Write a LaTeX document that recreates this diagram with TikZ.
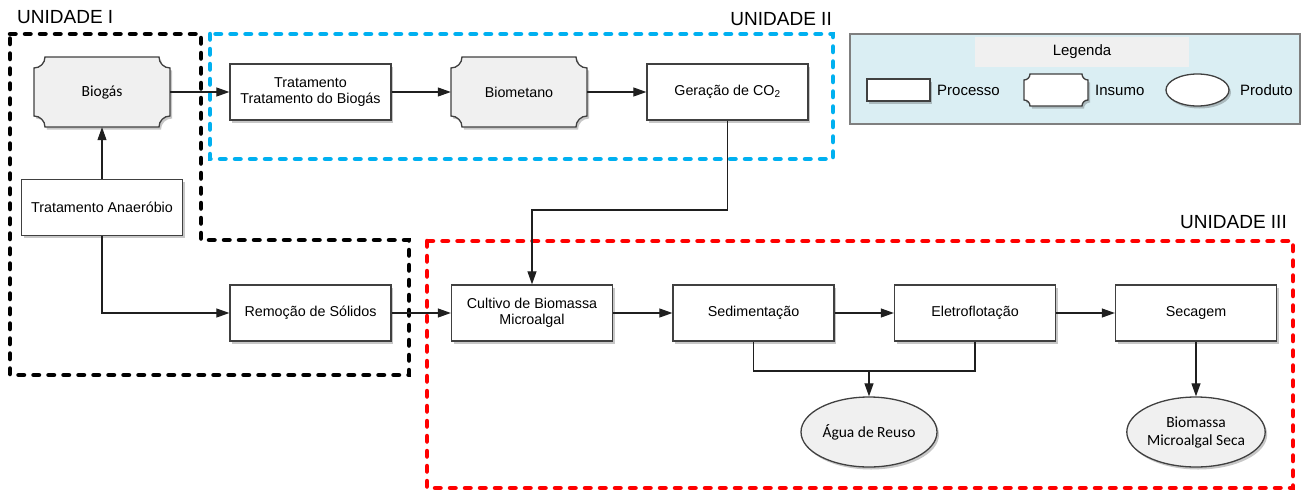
\documentclass[tikz,border=0pt]{standalone}
\usepackage{fontspec}
\setmainfont{Liberation Sans}
\newfontfamily\calibrilike{Carlito}
\usetikzlibrary{arrows.meta,calc,shapes.geometric,shadows}

\definecolor{edgegray}{HTML}{404040}
\definecolor{boxgray}{HTML}{F0F0F0}
\definecolor{unitblue}{HTML}{00B0F0}
\definecolor{unitred}{HTML}{FF0000}
\definecolor{legendbg}{HTML}{DAEEF3}
\definecolor{legendframe}{HTML}{7F7F7F}

% Input ("insumo") node: outline with concave quarter-circle corners, then the named node on top
% #1 name, #2 x, #3 y, #4 half width, #5 half height, #6 corner radius, #7 fill, #8 text
\newcommand\insumonode[8]{%
  \path[insumoline,fill=#7]
    ({#2-#4+#6},{#3-#5}) -- ({#2+#4-#6},{#3-#5})
    arc[start angle=180,end angle=270,radius=#6pt] -- ({#2+#4},{#3+#5-#6})
    arc[start angle=90,end angle=180,radius=#6pt] -- ({#2-#4+#6},{#3+#5})
    arc[start angle=0,end angle=90,radius=#6pt] -- ({#2-#4},{#3-#5+#6})
    arc[start angle=270,end angle=360,radius=#6pt] -- cycle;
  \node[insumo,minimum width={2*#4pt},minimum height={2*#5pt}] (#1) at (#2,#3) {#8};}

\begin{document}
\begin{tikzpicture}[x=1pt,y=-1pt,
  softshadow/.style={drop shadow={shadow xshift=2pt,shadow yshift=-2.5pt,opacity=0.22,fill=black}},
  process/.style={draw=edgegray,line width=1.3pt,fill=white,minimum width=161pt,minimum height=56pt,
    inner sep=2pt,align=center,font=\fontsize{14.3}{16.5}\selectfont,softshadow},
  insumo/.style={inner sep=0pt,align=center,font=\calibrilike\fontsize{15.5}{18}\selectfont},
  insumoline/.style={draw=edgegray,line width=1.3pt,softshadow},
  product/.style={ellipse,draw=edgegray,line width=1.3pt,fill=boxgray,minimum width=136pt,minimum height=70pt,
    inner sep=0pt,align=center,font=\calibrilike\fontsize{15.5}{18}\selectfont,softshadow},
  flow/.style={draw=black!88,line width=1.1pt,-{Triangle[length=13pt,width=9pt]}},
  link/.style={draw=black!88,line width=1.1pt},
  unitframe/.style={line width=4.5pt,dash pattern=on 5.5pt off 9.5pt,line cap=round},
  unitlabel/.style={font=\fontsize{19}{22}\selectfont,inner sep=0pt},
  legendtext/.style={font=\fontsize{15}{18}\selectfont,inner sep=0pt,anchor=west},
]
\useasboundingbox (0,0) rectangle (1302,493);

% legend panel
\draw[draw=legendframe,line width=1.5pt,fill=legendbg] (850,34) rectangle (1300,124);
\fill[boxgray] (975,37) rectangle (1189,67);
\node[font=\fontsize{15}{18}\selectfont,inner sep=0pt] (legtitle) at (1082,52) {Legenda};
\node[process,minimum width=63pt,minimum height=22pt] (legproc) at (898.5,90) {};
\node[legendtext] (legproctext) at (937,90) {Processo};
\insumonode{legins}{1056}{90}{32}{16}{6}{white}{}
\node[legendtext] (leginstext) at (1095,90) {Insumo};
\node[product,fill=white,minimum width=63pt,minimum height=32pt] (legprod) at (1197.5,90) {};
\node[legendtext] (legprodtext) at (1240,90) {Produto};

% unit frames
\draw[unitframe,black] (10,34) -- (201,34) -- (201,240) -- (409,240) -- (409,375) -- (10,375) -- cycle;
\draw[unitframe,unitblue] (210,34) rectangle (833,159);
\draw[unitframe,unitred] (427,241) rectangle (1293,488);

\node[unitlabel,anchor=north west] (unitone) at (17,10) {UNIDADE I};
\node[unitlabel,anchor=north east] (unittwo) at (832,12) {UNIDADE II};
\node[unitlabel,anchor=north east] (unitthree) at (1287,215) {UNIDADE III};

% unit I
\insumonode{biogas}{102}{92}{68}{35}{11}{boxgray}{Biogás}
\node[process] (anaer) at (102,207.5) {Tratamento Anaeróbio};
\node[process] (remocao) at (310.5,313) {Remoção de Sólidos};

% unit II
\node[process] (tratbio) at (310.5,92) {Tratamento\\Tratamento do Biogás};
\insumonode{biometano}{519}{92}{68}{35}{11}{boxgray}{\rmfamily\fontsize{14.3}{16.5}\selectfont Biometano}
\node[process] (co2) at (727.5,92) {Geração de CO\textsubscript{2}};

% unit III
\node[process] (cultivo) at (532,313) {Cultivo de Biomassa\\Microalgal};
\node[process] (sedim) at (753.5,313) {Sedimentação};
\node[process] (eletro) at (975,313) {Eletroflotação};
\node[process] (secagem) at (1196,313) {Secagem};
\node[product] (agua) at (869,432) {Água de Reuso};
\node[product] (biomassa) at (1196,432) {Biomassa\\Microalgal Seca};

% connectors
\draw[flow] (anaer.north) -- (biogas.south);
\draw[flow] (biogas.east) -- (tratbio.west);
\draw[flow] (tratbio.east) -- (biometano.west);
\draw[flow] (biometano.east) -- (co2.west);
\coordinate (co2bend) at (727.5,210);
\draw[flow] (co2.south) -- (co2bend) -| (cultivo.north);
\draw[flow] (anaer.south) |- (remocao.west);
\draw[flow] (remocao.east) -- (cultivo.west);
\draw[flow] (cultivo.east) -- (sedim.west);
\draw[flow] (sedim.east) -- (eletro.west);
\draw[flow] (eletro.east) -- (secagem.west);
\coordinate (watersplit) at (869,371);
\draw[link] (sedim.south) |- (watersplit);
\draw[link] (eletro.south) |- (watersplit);
\draw[flow] (watersplit) -- (agua.north);
\draw[flow] (secagem.south) -- (biomassa.north);
\end{tikzpicture}
\end{document}
